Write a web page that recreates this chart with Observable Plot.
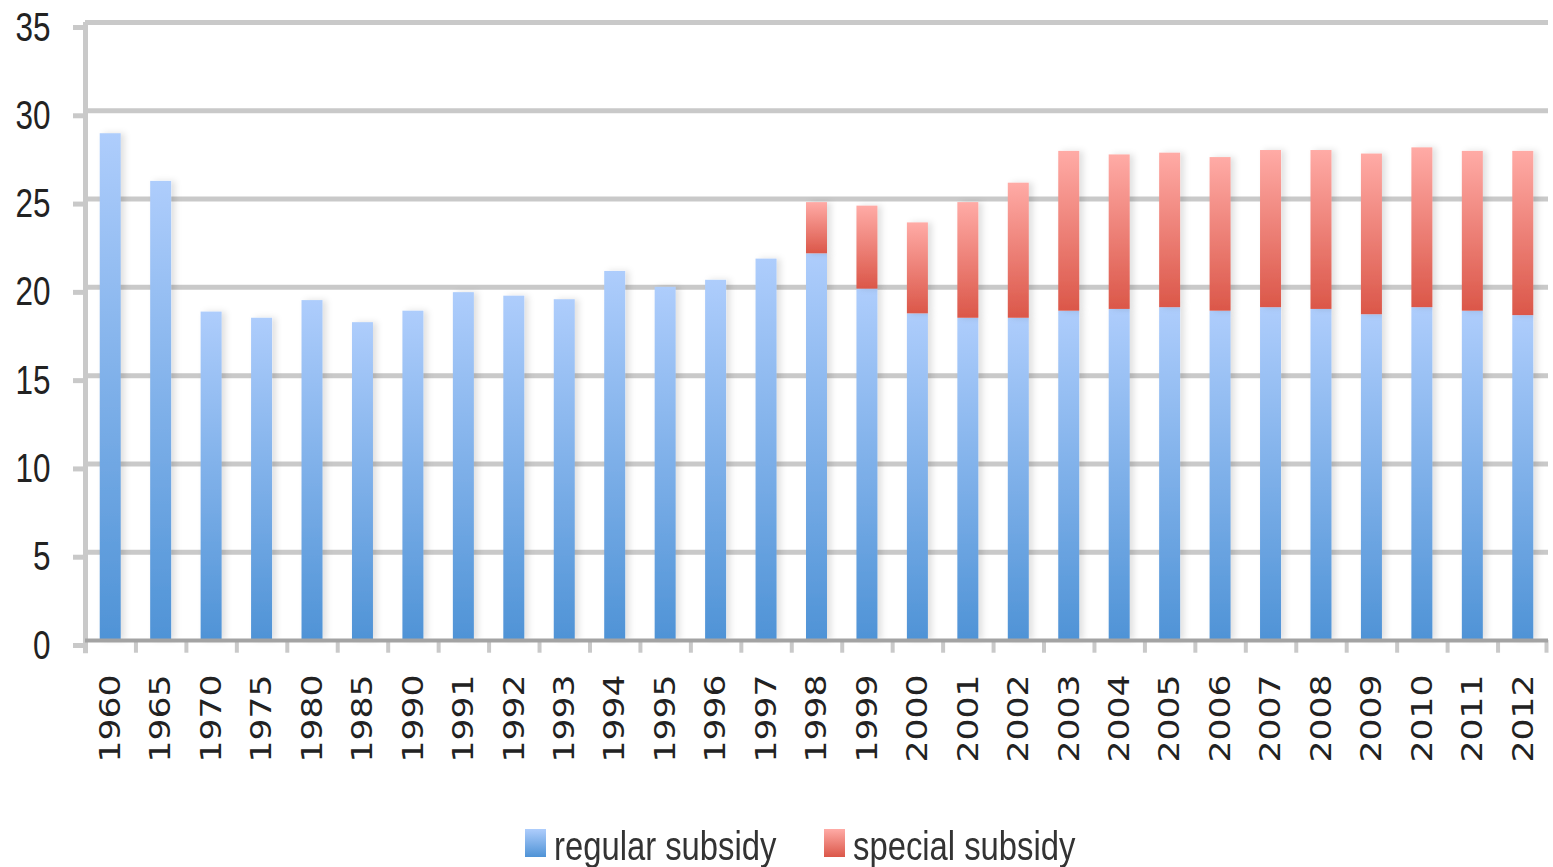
<!DOCTYPE html>
<html>
<head>
<meta charset="utf-8">
<script src="https://cdn.jsdelivr.net/npm/d3@7"></script>
<script src="https://cdn.jsdelivr.net/npm/@observablehq/plot@0.6"></script>
<style>
  html, body { margin: 0; padding: 0; background: #fff; }
  body { width: 1553px; height: 867px; overflow: hidden; }
  #legend { position: relative; height: 52px; font-family: "Liberation Sans Narrow", "Liberation Sans", sans-serif; font-size: 40px; color: #333; }
  #legend .sw { position: absolute; top: 14px; width: 21px; height: 28px; }
  #legend .lb { position: absolute; top: 11px; line-height: 40px; white-space: nowrap; transform: scaleX(0.82); transform-origin: 0 0; }
</style>
</head>
<body>
<div id="chart"></div>
<div id="legend"></div>
<script>
// ---- data ----
const years = [1960, 1965, 1970, 1975, 1980, 1985, 1990, 1991, 1992, 1993, 1994, 1995, 1996, 1997,
               1998, 1999, 2000, 2001, 2002, 2003, 2004, 2005, 2006, 2007, 2008, 2009, 2010, 2011, 2012];
const regularSubsidy = [28.7, 26.0, 18.6, 18.25, 19.25, 18.0, 18.65, 19.7, 19.5, 19.3, 20.9, 20.0, 20.4, 21.6,
                        21.9, 19.9, 18.5, 18.25, 18.25, 18.65, 18.75, 18.85, 18.65, 18.85, 18.75, 18.45, 18.85, 18.65, 18.4];
const specialSubsidy = [0, 0, 0, 0, 0, 0, 0, 0, 0, 0, 0, 0, 0, 0,
                        2.9, 4.7, 5.15, 6.55, 7.65, 9.05, 8.75, 8.75, 8.7, 8.9, 9.0, 9.1, 9.05, 9.05, 9.3];
const yTicks = [0, 5, 10, 15, 20, 25, 30, 35];
const seriesNames = ["regular subsidy", "special subsidy"];
const seriesColors = [["#aecdfc", "#4f93d6"], ["#ffaba6", "#db5749"]];

// ---- table built from arrays ----
const data = years.map((yr, i) => ({
  year: String(yr),
  regular: regularSubsidy[i],
  special: specialSubsidy[i],
  total: regularSubsidy[i] + specialSubsidy[i]
}));

const W = 1553, H = 815, mL = 85, mR = 5, mT = 22, mB = 175;
const step = (W - mL - mR) / years.length;
const inset = (step - 21) / 2;
const gridColor = "#c9c9c9";

function defs() {
  const ns = "http://www.w3.org/2000/svg";
  const d = document.createElementNS(ns, "defs");
  const ids = ["gBlue", "gRed"];
  ids.forEach((id, k) => {
    const g = document.createElementNS(ns, "linearGradient");
    g.setAttribute("id", id);
    g.setAttribute("x1", "0"); g.setAttribute("y1", "0");
    g.setAttribute("x2", "0"); g.setAttribute("y2", "1");
    [[0, seriesColors[k][0]], [1, seriesColors[k][1]]].forEach(([o, c]) => {
      const s = document.createElementNS(ns, "stop");
      s.setAttribute("offset", o);
      s.setAttribute("stop-color", c);
      g.appendChild(s);
    });
    d.appendChild(g);
  });
  const f = document.createElementNS(ns, "filter");
  f.setAttribute("id", "shadow");
  f.setAttribute("x", "-20%"); f.setAttribute("y", "-5%");
  f.setAttribute("width", "160%"); f.setAttribute("height", "110%");
  const ds = document.createElementNS(ns, "feDropShadow");
  ds.setAttribute("dx", "4"); ds.setAttribute("dy", "0");
  ds.setAttribute("stdDeviation", "3");
  ds.setAttribute("flood-color", "#000");
  ds.setAttribute("flood-opacity", "0.12");
  f.appendChild(ds);
  d.appendChild(f);
  return d;
}

const chart = Plot.plot({
  width: W,
  height: H,
  marginLeft: mL,
  marginRight: mR,
  marginTop: mT,
  marginBottom: mB,
  style: { background: "#fff", color: "#222" },
  x: { type: "band", domain: years.map(String), padding: 0, round: false, label: null },
  y: { domain: [0, 35], label: null },
  marks: [
    defs,
    Plot.ruleY(yTicks.filter(t => t > 0), { y: d => d, stroke: gridColor, strokeWidth: 5 }),
    Plot.axisY({ ticks: yTicks, tickSize: 12, tickPadding: 23, stroke: gridColor, strokeWidth: 5,
                 fontSize: 41, fontFamily: "Liberation Sans Narrow, Liberation Sans, sans-serif",
                 dy: 5, label: null }),
    Plot.axisX({ tickSize: 0, tickPadding: 34, tickRotate: -90, fontSize: 29,
                 fontFamily: "DejaVu Sans, sans-serif", label: null }),
    // y axis line (at left edge of first band)
    Plot.ruleX([String(years[0])], { x: d => d, dx: -step / 2, y1: -0.75, y2: 35, stroke: gridColor, strokeWidth: 5 }),
    // category boundary ticks below the axis
    Plot.ruleX(years.slice(1).map(String), { x: d => d, dx: -step / 2, y1: 0, y2: -0.72, stroke: gridColor, strokeWidth: 4 }),
    Plot.ruleX([String(years[years.length - 1])], { x: d => d, dx: step / 2 - 2, y1: 0, y2: -0.72, stroke: gridColor, strokeWidth: 4 }),
    Plot.barY(data, { x: "year", y: "regular", fill: "url(#gBlue)", insetLeft: inset, insetRight: inset }),
    Plot.barY(data.filter(d => d.special > 0), { x: "year", y1: "regular", y2: "total", fill: "url(#gRed)", insetLeft: inset, insetRight: inset }),
    Plot.ruleY([0], { y: d => d, stroke: "#a3a3a3", strokeWidth: 4 })
  ]
});

chart.querySelectorAll('g[aria-label="bar"]').forEach(g => g.setAttribute("filter", "url(#shadow)"));
chart.querySelectorAll('g[aria-label="x-axis tick label"] text').forEach(t => {
  t.setAttribute("textLength", "88");
  t.setAttribute("lengthAdjust", "spacingAndGlyphs");
});
chart.querySelectorAll('g[aria-label="y-axis tick label"] text').forEach(t => {
  t.setAttribute("textLength", String(17.5 * t.textContent.length));
  t.setAttribute("lengthAdjust", "spacingAndGlyphs");
});
document.getElementById("chart").appendChild(chart);

// ---- legend ----
const legend = document.getElementById("legend");
const legendPos = [[525, 554], [824, 853]];
seriesNames.forEach((name, k) => {
  const sw = document.createElement("div");
  sw.className = "sw";
  sw.style.left = legendPos[k][0] + "px";
  sw.style.background = `linear-gradient(${seriesColors[k][0]}, ${seriesColors[k][1]})`;
  legend.appendChild(sw);
  const lb = document.createElement("div");
  lb.className = "lb";
  lb.style.left = legendPos[k][1] + "px";
  lb.textContent = name;
  legend.appendChild(lb);
});
</script>
</body>
</html>
